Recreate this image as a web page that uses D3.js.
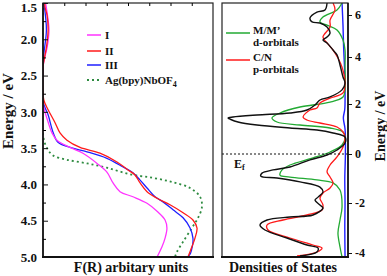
<!DOCTYPE html>
<html>
<head>
<meta charset="utf-8">
<script src="https://cdn.jsdelivr.net/npm/d3@7"></script>
<style>
  body { margin: 0; background: #fff; }
  text { font-family: "Liberation Serif", "Times New Roman", serif; font-weight: bold; fill: #111; }
</style>
</head>
<body>
<div id="chart"></div>
<script>
// ---- data: [energy (eV), value] ----
var sampleI = [[1.5,0.015],[1.6,0.022],[1.87,0.035],[2.1,0.025],[2.3,0.005],[2.4,0],[2.88,0],[3.14,0.03],[3.29,0.053],
  [3.39,0.082],[3.49,0.159],[3.57,0.235],[3.71,0.318],[3.83,0.376],[3.98,0.412],[4.1,0.453],[4.17,0.529],[4.26,0.612],
  [4.38,0.676],[4.49,0.718],[4.6,0.729],[4.74,0.718],[4.86,0.70],[5.0,0.671]];
var sampleII = [[1.5,0.01],[1.56,0.012],[1.67,0.024],[1.87,0.03],[2.08,0.022],[2.29,0.006],[2.38,0],[2.7,0],[2.84,0.005],
  [2.97,0.03],[3.15,0.071],[3.29,0.10],[3.39,0.141],[3.49,0.218],[3.57,0.335],[3.69,0.435],[3.8,0.50],[3.87,0.541],
  [3.98,0.571],[4.1,0.612],[4.19,0.671],[4.28,0.747],[4.39,0.824],[4.49,0.882],[4.6,0.906],[4.74,0.894],[4.86,0.876],[5.0,0.853]];
var sampleIII = [[1.5,0.005],[1.87,0.02],[2.2,0.005],[2.4,0],[2.86,0],[3.04,0.03],[3.28,0.059],[3.42,0.088],[3.49,0.159],
  [3.55,0.259],[3.64,0.376],[3.76,0.471],[3.84,0.529],[3.94,0.571],[4.05,0.612],[4.17,0.659],[4.24,0.706],[4.35,0.765],
  [4.46,0.824],[4.6,0.865],[4.74,0.882],[4.88,0.876],[4.995,0.853],[4.995,0]];
var agNbOF4 = [[1.5,0],[3.32,0],[3.5,0.024],[3.6,0.059],[3.66,0.141],[3.71,0.259],[3.77,0.376],[3.86,0.512],[3.91,0.647],
  [3.97,0.765],[4.05,0.865],[4.17,0.924],[4.31,0.935],[4.46,0.912],[4.6,0.876],[4.79,0.824],[4.93,0.788],[5.0,0.776]];

var dosTotal = [[6.57,1.58],[6.24,1.75],[6.14,2.42],[5.86,3.0],[5.67,2.83],[5.62,2.17],[5.43,1.58],[5.14,1.33],[4.95,1.58],
  [4.81,1.92],[4.67,1.58],[4.33,1.08],[4.1,0.75],[3.66,0.5],[3.15,0.25],[2.89,0.08],[2.6,0.33],[2.3,1.33],[2.17,2.17],
  [1.96,2.58],[1.76,3.25],[1.64,4.67],[1.56,7.42],[1.48,9.42],[1.44,9.83],[1.38,9.6],[1.28,9.0],[1.16,7.42],[1.04,4.67],
  [0.96,2.42],[0.84,1.08],[0.68,0.08],[0.44,0.08],[0.16,0.75],[-0.04,1.58],[-0.24,3.0],[-0.53,4.67],[-0.65,6.08],
  [-0.78,7.0],[-0.9,7.1],[-0.98,5.75],[-1.14,3.83],[-1.35,2.17],[-1.55,1.92],[-1.76,2.33],[-1.88,2.58],[-2.08,2.17],
  [-2.2,1.92],[-2.48,2.75],[-2.56,4.67],[-2.68,6.58],[-2.88,7.17],[-3.08,6.75],[-3.4,4.92],[-3.68,3.25],[-3.8,2.33],
  [-3.96,2.42],[-4.12,3.83]];
var dosMetal = [[6.57,0.33],[6.24,0.75],[5.9,1.92],[5.67,2.17],[5.52,1.58],[5.29,0.75],[4.81,0.25],[4.33,0.08],[3.57,0.08],
  [2.6,0.08],[2.3,0.25],[2.08,1.33],[1.88,3.83],[1.64,5.5],[1.44,6.17],[1.28,5.75],[1.16,3.83],[1.04,1.33],[0.88,0.25],
  [0.68,0.08],[0.36,0.33],[0.08,1.33],[-0.16,2.75],[-0.45,4.67],[-0.65,5.33],[-0.86,5.5],[-0.94,4.67],[-1.06,2.42],
  [-1.18,1.08],[-1.47,0.5],[-2.16,0.33],[-2.68,0.5],[-3.2,0.67],[-3.76,0.5],[-4.16,0.33]];
var dosCN = [[6.57,1.08],[6.24,0.92],[5.76,1.33],[5.43,1.33],[4.95,1.92],[4.67,1.58],[4.33,1.08],[3.96,0.67],[3.57,0.33],
  [2.89,0.08],[2.47,0.25],[2.25,1.33],[2.04,2.17],[1.84,2.42],[1.76,3.0],[1.48,3.58],[1.36,3.25],[1.24,2.17],[1.08,0.75],
  [0.88,0.25],[0.68,0.08],[0.28,0.25],[-0.12,0.75],[-0.45,1.33],[-0.73,1.58],[-0.94,1.33],[-1.18,1.08],[-1.39,1.33],
  [-1.59,1.92],[-1.8,2.17],[-2.08,1.92],[-2.28,2.0],[-2.48,3.25],[-2.68,5.25],[-2.88,6.58],[-3.08,6.5],[-3.4,4.67],
  [-3.68,2.75],[-3.8,2.0],[-3.96,2.42],[-4.12,4.08]];
var dosOther = [[6.57,0.33],[5.5,0.25],[4.5,0.2],[3.5,0.12],[2.5,0.08],[1.8,0.1],[1.44,0.22],[1.0,0.08],[0,0.05],
  [-1,0.1],[-2,0.08],[-3,0.1],[-4.12,0.08]];

var leftTicks = [1.5, 2.0, 2.5, 3.0, 3.5, 4.0, 4.5, 5.0];
var leftMinor = [1.75, 2.25, 2.75, 3.25, 3.75, 4.25, 4.75];
var topMinor = [0.125, 0.25, 0.375, 0.5, 0.625, 0.75, 0.875];
var rightTicks = [-4, -2, 0, 2, 4, 6];
var rightTickY = [253, 203, 154, 104, 57, 15];

var svg = d3.select("#chart").append("svg")
    .attr("width", 387)
    .attr("height", 276);

// scales
var yL = d3.scaleLinear().domain([1.5, 5.0]).range([3, 257]);
var xL = d3.scaleLinear().domain([0, 1]).range([43, 213]);
// right axis is slightly uneven in the original, so map tick by tick
var yR = d3.scaleLinear().domain(rightTicks).range(rightTickY);
var xR = d3.scaleLinear().domain([0, 10]).range([346, 226]);

var defs = svg.append("defs");
defs.append("clipPath").attr("id", "clipL").append("rect")
    .attr("x", 43).attr("y", 3).attr("width", 170).attr("height", 254);
defs.append("clipPath").attr("id", "clipR").append("rect")
    .attr("x", 222).attr("y", 3).attr("width", 126).attr("height", 254);

// ---------- left panel ----------
var lineL = d3.line()
    .x(function(d){ return xL(d[1]); })
    .y(function(d){ return yL(d[0]); })
    .curve(d3.curveCatmullRom.alpha(0.5));

var gL = svg.append("g").attr("clip-path", "url(#clipL)");
var leftSeries = [
    {data: agNbOF4, color: "#2e8b40", dash: "2,3", w: 1.8},
    {data: sampleIII, color: "#1f1fff", dash: null, w: 1.3},
    {data: sampleI, color: "#ff33ff", dash: null, w: 1.3},
    {data: sampleII, color: "#ff1a1a", dash: null, w: 1.3}
];
leftSeries.forEach(function(s){
    gL.append("path")
        .attr("d", lineL(s.data))
        .attr("fill", "none")
        .attr("stroke", s.color)
        .attr("stroke-width", s.w)
        .attr("stroke-dasharray", s.dash);
});

svg.append("rect")
    .attr("x", 43).attr("y", 3).attr("width", 170).attr("height", 254)
    .attr("fill", "none").attr("stroke", "#222").attr("stroke-width", 1.2);
svg.append("line").attr("x1", 42).attr("x2", 214).attr("y1", 257).attr("y2", 257)
    .attr("stroke", "#111").attr("stroke-width", 2);
svg.append("line").attr("x1", 43).attr("x2", 43).attr("y1", 3).attr("y2", 257)
    .attr("stroke", "#111").attr("stroke-width", 1.6);

var axL = svg.append("g").attr("transform", "translate(43,0)")
    .call(d3.axisLeft(yL).tickValues(leftTicks).tickSize(-5).tickPadding(6)
        .tickFormat(d3.format(".1f")));
axL.select(".domain").remove();
axL.selectAll("text").style("font-size", "13px").attr("fill", "#111");
axL.selectAll("line").attr("stroke", "#111");
// top label sits a little lower so it is not cut at the edge
axL.selectAll("text").filter(function(d){ return d === 1.5; }).attr("dy", "0.32em").attr("y", 4);

var axLm = svg.append("g").attr("transform", "translate(43,0)")
    .call(d3.axisLeft(yL).tickValues(leftMinor).tickSize(-3).tickFormat(""));
axLm.select(".domain").remove();

var axT = svg.append("g").attr("transform", "translate(0,3)")
    .call(d3.axisTop(xL).tickValues(topMinor).tickSize(-3).tickFormat(""));
axT.select(".domain").remove();

svg.append("text")
    .attr("transform", "translate(13,111) rotate(-90)")
    .attr("text-anchor", "middle")
    .style("font-size", "15px")
    .text("Energy / eV");
svg.append("text")
    .attr("x", 131).attr("y", 272)
    .attr("text-anchor", "middle")
    .style("font-size", "14px")
    .text("F(R) arbitary units");

// left legend
var legL = [
    {label: "I", color: "#ff33ff", dash: null, y: 35},
    {label: "II", color: "#ff1a1a", dash: null, y: 51},
    {label: "III", color: "#1f1fff", dash: null, y: 65},
    {label: "Ag(bpy)NbOF", color: "#2e8b40", dash: "2,3", y: 80}
];
legL.forEach(function(l){
    svg.append("line")
        .attr("x1", 87).attr("x2", 101).attr("y1", l.y).attr("y2", l.y)
        .attr("stroke", l.color).attr("stroke-width", l.dash ? 1.8 : 1.5)
        .attr("stroke-dasharray", l.dash);
    var t = svg.append("text")
        .attr("x", 105).attr("y", l.y + 4)
        .style("font-size", "11px")
        .text(l.label);
    if (l.dash) {
        t.append("tspan").attr("dy", 3).style("font-size", "8px").text("4");
    }
});

// ---------- right panel ----------
var lineR = d3.line()
    .x(function(d){ return xR(d[1]); })
    .y(function(d){ return yR(d[0]); })
    .curve(d3.curveCatmullRom.alpha(0.5));

var gR = svg.append("g").attr("clip-path", "url(#clipR)");
var rightSeries = [
    {data: dosOther, color: "#1f1fff", w: 1.4},
    {data: dosMetal, color: "#22aa33", w: 1.3},
    {data: dosCN, color: "#ff1a1a", w: 1.3},
    {data: dosTotal, color: "#111", w: 1.4}
];
rightSeries.forEach(function(s){
    gR.append("path")
        .attr("d", lineR(s.data))
        .attr("fill", "none")
        .attr("stroke", s.color)
        .attr("stroke-width", s.w);
});

// Fermi level
svg.append("line")
    .attr("x1", 222).attr("x2", 348).attr("y1", yR(0)).attr("y2", yR(0))
    .attr("stroke", "#111").attr("stroke-width", 1).attr("stroke-dasharray", "2,2");
var ef = svg.append("text").attr("x", 234).attr("y", 168).style("font-size", "12px").text("E");
ef.append("tspan").attr("dy", 2).style("font-size", "8px").text("f");

svg.append("rect")
    .attr("x", 222).attr("y", 3).attr("width", 126).attr("height", 254)
    .attr("fill", "none").attr("stroke", "#222").attr("stroke-width", 1.2);
svg.append("line").attr("x1", 221).attr("x2", 349).attr("y1", 257).attr("y2", 257)
    .attr("stroke", "#111").attr("stroke-width", 2);
svg.append("line").attr("x1", 348).attr("x2", 348).attr("y1", 3).attr("y2", 257)
    .attr("stroke", "#111").attr("stroke-width", 1.6);

var axR = svg.append("g").attr("transform", "translate(348,0)")
    .call(d3.axisRight(yR).tickValues(rightTicks).tickSize(4).tickPadding(3)
        .tickFormat(function(d){ return String(d); }));
axR.select(".domain").remove();
axR.selectAll("text").style("font-size", "12px").attr("fill", "#111");
axR.selectAll("line").attr("stroke", "#111");

svg.append("text")
    .attr("transform", "translate(385,126) rotate(-90)")
    .attr("text-anchor", "middle")
    .style("font-size", "14px")
    .text("Energy / eV");
svg.append("text")
    .attr("x", 283).attr("y", 272)
    .attr("text-anchor", "middle")
    .style("font-size", "14px")
    .text("Densities of States");

// right legend
var legR = [
    {l1: "M/M\u2019", l2: "d-orbitals", color: "#22aa33", y: 33},
    {l1: "C/N", l2: "p-orbitals", color: "#ff1a1a", y: 60}
];
legR.forEach(function(l){
    svg.append("line")
        .attr("x1", 226).attr("x2", 250).attr("y1", l.y).attr("y2", l.y)
        .attr("stroke", l.color).attr("stroke-width", 1.5);
    svg.append("text").attr("x", 253).attr("y", l.y + 1).style("font-size", "11px").text(l.l1);
    svg.append("text").attr("x", 253).attr("y", l.y + 13).style("font-size", "11px").text(l.l2);
});
</script>
</body>
</html>
